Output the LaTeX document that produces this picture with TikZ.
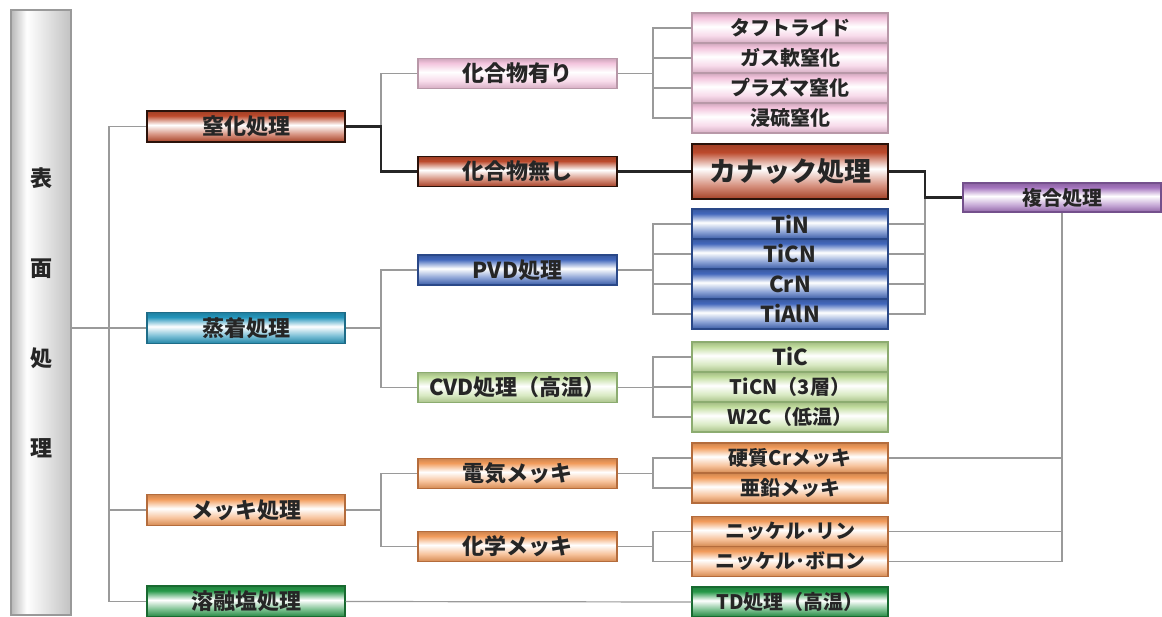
\documentclass[tikz,border=0pt]{standalone}
\usepackage{fontspec}
\setmainfont{Noto Sans CJK JP}
\definecolor{cbrown}{HTML}{BC4A2C}
\definecolor{bbrown}{HTML}{2A120A}
\definecolor{cpink}{HTML}{F3C4DD}
\definecolor{bpink}{HTML}{B898A8}
\definecolor{ccyan}{HTML}{2596BC}
\definecolor{bcyan}{HTML}{1E6C88}
\definecolor{cblue}{HTML}{4268BC}
\definecolor{bblue}{HTML}{2A4888}
\definecolor{clgreen}{HTML}{C0DC9C}
\definecolor{blgreen}{HTML}{8CAC70}
\definecolor{corange}{HTML}{F29C5C}
\definecolor{borange}{HTML}{B46C3C}
\definecolor{cdgreen}{HTML}{269848}
\definecolor{bdgreen}{HTML}{186A30}
\definecolor{cpurple}{HTML}{A474BE}
\definecolor{bpurple}{HTML}{74508C}
\definecolor{lgray}{HTML}{9A9A9A}
\definecolor{txt}{HTML}{262626}
\newcommand\mybandshade[2]{\pgfdeclareverticalshading{#1}{100bp}{color(0bp)=(#2!88!black); color(25bp)=(#2!88!black); color(37.5bp)=(#2!60); color(52.5bp)=(white); color(67.5bp)=(#2); color(75bp)=(#2!85!black); color(100bp)=(#2!85!black)}}
\mybandshade{shbrown}{cbrown}
\mybandshade{shpink}{cpink}
\mybandshade{shcyan}{ccyan}
\mybandshade{shblue}{cblue}
\mybandshade{shlgreen}{clgreen}
\mybandshade{shorange}{corange}
\mybandshade{shdgreen}{cdgreen}
\mybandshade{shpurple}{cpurple}
\pgfdeclarehorizontalshading{shpillar}{100bp}{color(0bp)=(black!28); color(25bp)=(black!28); color(38bp)=(white); color(75bp)=(black!24); color(100bp)=(black!24)}
\begin{document}
\begin{tikzpicture}[x=1pt,y=-1pt,
  bx/.style={shade, draw, inner sep=0pt, text=txt, line width=1.2pt,
    font=\bfseries\fontsize{22}{22}\selectfont},
  lone/.style={bx, minimum width=198pt, minimum height=31pt},
  ltwo/.style={bx, minimum width=199pt, minimum height=30pt},
  lthree/.style={bx, minimum width=196pt, minimum height=30pt,
    font=\bfseries\fontsize{20}{20}\selectfont},
  latin/.style={font=\bfseries\fontsize{22}{22}\selectfont},
  brown/.style={shading=shbrown, draw=bbrown, line width=1.8pt},
  pink/.style={shading=shpink, draw=bpink},
  cyan/.style={shading=shcyan, draw=bcyan},
  blue/.style={shading=shblue, draw=bblue},
  lgreen/.style={shading=shlgreen, draw=blgreen},
  orange/.style={shading=shorange, draw=borange},
  dgreen/.style={shading=shdgreen, draw=bdgreen},
  purple/.style={shading=shpurple, draw=bpurple},
  gl/.style={draw=lgray, line width=1.2pt},
  dl/.style={draw=black!85, line width=2.4pt},
]
\useasboundingbox (0,0) rectangle (1162,617);
% pillar
\node[shade, shading=shpillar, draw=black!40, line width=1.2pt, minimum width=60pt,
  minimum height=605pt, inner sep=0pt, align=center, text=txt,
  font=\bfseries\fontsize{22}{90}\selectfont] (pil) at (41,312.5) {表\\面\\処\\理};
% level 1
\node[lone, brown] (s1) at (246,126.5) {窒化処理};
\node[lone, cyan] (s2) at (246,328) {蒸着処理};
\node[lone, orange] (s3) at (246,510) {メッキ処理};
\node[lone, dgreen] (s4) at (246,601.5) {溶融塩処理};
% level 2
\node[ltwo, pink] (m1) at (517.5,73.5) {化合物有り};
\node[ltwo, brown] (m2) at (517.5,171.5) {化合物無し};
\node[ltwo, blue] (m3) at (517.5,270) {PVD処理};
\node[ltwo, lgreen] (m4) at (517.5,387.5) {CVD処理（高温）};
\node[ltwo, orange] (m5) at (517.5,473.5) {電気メッキ};
\node[ltwo, orange] (m6) at (517.5,546.5) {化学メッキ};
% level 3
\node[lthree, pink] (p1) at (790,28) {タフトライド};
\node[lthree, pink] (p2) at (790,58) {ガス軟窒化};
\node[lthree, pink] (p3) at (790,88) {プラズマ窒化};
\node[lthree, pink] (p4) at (790,118) {浸硫窒化};
\node[bx, brown, line width=2.8pt, minimum width=196pt, minimum height=55pt,
  font=\bfseries\fontsize{27}{27}\selectfont] (kn) at (790,171.5) {カナック処理};
\node[lthree, blue, latin] (b1) at (790,224) {TiN};
\node[lthree, blue, latin] (b2) at (790,254) {TiCN};
\node[lthree, blue, latin] (b3) at (790,284) {CrN};
\node[lthree, blue, latin] (b4) at (790,314) {TiAlN};
\node[lthree, lgreen, latin] (g1) at (790,357) {TiC};
\node[lthree, lgreen] (g2) at (790,387) {TiCN（3層）};
\node[lthree, lgreen] (g3) at (790,417) {W2C（低温）};
\node[lthree, orange] (o1) at (790,458) {硬質Crメッキ};
\node[lthree, orange] (o2) at (790,488) {亜鉛メッキ};
\node[lthree, orange] (o3) at (790,531.5) {ニッケル･リン};
\node[lthree, orange] (o4) at (790,561.5) {ニッケル･ボロン};
\node[lthree, dgreen] (td) at (790,602) {TD処理（高温）};
% composite
\node[bx, purple, minimum width=198pt, minimum height=29pt,
  font=\bfseries\fontsize{20}{20}\selectfont] (fk) at (1062,197.5) {複合処理};
% junction columns
\coordinate (ja) at (109,0);
\coordinate (jb) at (381,0);
\coordinate (jc) at (653,0);
\coordinate (jd) at (925,0);
% trunk
\draw[gl] (pil.east |- s2.west) -- (s2.west);
\draw[gl] (s1.west) -| (ja |- s4.west) -- (s4.west);
\draw[gl] (ja |- s3.west) -- (s3.west);
% nitriding
\draw[gl] (jb |- s1.east) |- (m1.west);
\draw[dl] (s1.east) -| (jb |- m2.west) -- (m2.west);
\draw[gl] (m1.east) -- (jc |- m1.east);
\draw[gl] (p1.west) -| (jc |- p4.west) -- (p4.west);
\draw[gl] (jc |- p2.west) -- (p2.west);
\draw[gl] (jc |- p3.west) -- (p3.west);
\draw[dl] (m2.east) -- (kn.west);
% deposition
\draw[gl] (s2.east) -- (jb |- s2.east);
\draw[gl] (m3.west) -| (jb |- m4.west) -- (m4.west);
\draw[gl] (m3.east) -- (jc |- m3.east);
\draw[gl] (b1.west) -| (jc |- b4.west) -- (b4.west);
\draw[gl] (jc |- b2.west) -- (b2.west);
\draw[gl] (jc |- b3.west) -- (b3.west);
\draw[gl] (m4.east) -- (jc |- m4.east);
\draw[gl] (g1.west) -| (jc |- g3.west) -- (g3.west);
\draw[gl] (jc |- g2.west) -- (g2.west);
% plating
\draw[gl] (s3.east) -- (jb |- s3.east);
\draw[gl] (m5.west) -| (jb |- m6.west) -- (m6.west);
\draw[gl] (m5.east) -- (jc |- m5.east);
\draw[gl] (o1.west) -| (jc |- o2.west) -- (o2.west);
\draw[gl] (m6.east) -- (jc |- m6.east);
\draw[gl] (o3.west) -| (jc |- o4.west) -- (o4.west);
% molten salt
\draw[gl] (s4.east) -- (td.west);
% composite links
\draw[gl] (jd |- fk.west) |- (b4.east);
\draw[gl] (b1.east) -- (jd |- b1.east);
\draw[gl] (b2.east) -- (jd |- b2.east);
\draw[gl] (b3.east) -- (jd |- b3.east);
\draw[dl] (kn.east) -| (jd |- fk.west) -- (fk.west);
\draw[gl] (fk.south) |- (o4.east);
\draw[gl] (o1.east) -- (fk.south |- o1.east);
\draw[gl] (o3.east) -- (fk.south |- o3.east);
\end{tikzpicture}
\end{document}
